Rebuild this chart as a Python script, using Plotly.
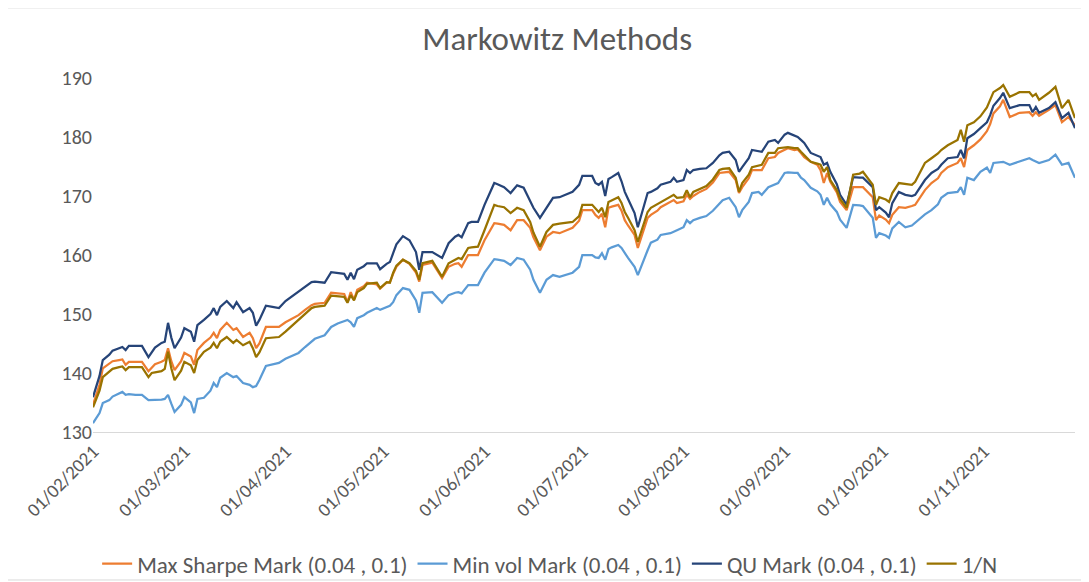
import plotly.graph_objects as go

dates = [
    "2021-02-01", "2021-02-03", "2021-02-04", "2021-02-06", "2021-02-07", "2021-02-09", "2021-02-10", "2021-02-11",
    "2021-02-12", "2021-02-14", "2021-02-16", "2021-02-18", "2021-02-19", "2021-02-20", "2021-02-22", "2021-02-23",
    "2021-02-24", "2021-02-25", "2021-02-26", "2021-02-28",
    "2021-03-01", "2021-03-03", "2021-03-04", "2021-03-05", "2021-03-07", "2021-03-09", "2021-03-10", "2021-03-11",
    "2021-03-12", "2021-03-14", "2021-03-16", "2021-03-17", "2021-03-19", "2021-03-21", "2021-03-22", "2021-03-23",
    "2021-03-24", "2021-03-26", "2021-03-28", "2021-03-30",
    "2021-04-01", "2021-04-03", "2021-04-05", "2021-04-07", "2021-04-09", "2021-04-10", "2021-04-13", "2021-04-15",
    "2021-04-17", "2021-04-19", "2021-04-20", "2021-04-21", "2021-04-22", "2021-04-23", "2021-04-25", "2021-04-26",
    "2021-04-29", "2021-04-30",
    "2021-05-02", "2021-05-03", "2021-05-04", "2021-05-05", "2021-05-07", "2021-05-09", "2021-05-11", "2021-05-12",
    "2021-05-13", "2021-05-15", "2021-05-16", "2021-05-19", "2021-05-21", "2021-05-23", "2021-05-24", "2021-05-25",
    "2021-05-27", "2021-05-28", "2021-05-30",
    "2021-06-01", "2021-06-04", "2021-06-05", "2021-06-07", "2021-06-09", "2021-06-11", "2021-06-13", "2021-06-15",
    "2021-06-16", "2021-06-18", "2021-06-20", "2021-06-22", "2021-06-24", "2021-06-26", "2021-06-28", "2021-06-30",
    "2021-07-01", "2021-07-04", "2021-07-05", "2021-07-06", "2021-07-07", "2021-07-08", "2021-07-09", "2021-07-10",
    "2021-07-12", "2021-07-13", "2021-07-14", "2021-07-15", "2021-07-17", "2021-07-18", "2021-07-21", "2021-07-22",
    "2021-07-24", "2021-07-25", "2021-07-28", "2021-07-29", "2021-07-30",
    "2021-08-01", "2021-08-02", "2021-08-03", "2021-08-04", "2021-08-06", "2021-08-08", "2021-08-10", "2021-08-12",
    "2021-08-13", "2021-08-15", "2021-08-17", "2021-08-18", "2021-08-19", "2021-08-21", "2021-08-22", "2021-08-24",
    "2021-08-25", "2021-08-27", "2021-08-29", "2021-08-30",
    "2021-09-01", "2021-09-02", "2021-09-04", "2021-09-05", "2021-09-06", "2021-09-07", "2021-09-09", "2021-09-11",
    "2021-09-12", "2021-09-13", "2021-09-14", "2021-09-15", "2021-09-17", "2021-09-18", "2021-09-20", "2021-09-21",
    "2021-09-22", "2021-09-24", "2021-09-25", "2021-09-28", "2021-09-29", "2021-09-30",
    "2021-10-02", "2021-10-03", "2021-10-04", "2021-10-06", "2021-10-08", "2021-10-10", "2021-10-11", "2021-10-14",
    "2021-10-16", "2021-10-18", "2021-10-19", "2021-10-21", "2021-10-24", "2021-10-25", "2021-10-26", "2021-10-27",
    "2021-10-29", "2021-10-31",
    "2021-11-02", "2021-11-03", "2021-11-04", "2021-11-06", "2021-11-07", "2021-11-09", "2021-11-12", "2021-11-15",
    "2021-11-16", "2021-11-17", "2021-11-18", "2021-11-21", "2021-11-23", "2021-11-25", "2021-11-27", "2021-11-29",
]

max_sharpe = [
    134.6, 138.0, 140.8, 141.7, 142.0, 142.2, 142.3, 141.4, 141.9, 141.9, 141.9, 140.3, 141.0, 141.5, 141.9, 142.2,
    144.2, 142.0, 140.5, 142.0,
    143.4, 142.8, 141.4, 143.9, 145.1, 146.0, 146.8, 145.9, 147.3, 148.5, 147.3, 147.6, 146.1, 146.8, 145.9, 144.2,
    145.0, 147.8, 147.8, 147.8,
    148.6, 149.2, 149.8, 150.7, 151.5, 151.7, 151.9, 153.6, 153.5, 153.4, 152.0, 153.7, 152.4, 154.1, 154.7, 155.3,
    155.0, 154.3,
    155.3, 155.4, 156.8, 158.0, 159.2, 158.5, 157.0, 155.5, 158.3, 158.5, 158.7, 156.1, 158.0, 158.5, 158.6, 158.0,
    160.0, 160.0, 160.0,
    162.5, 165.4, 165.3, 165.1, 164.2, 165.9, 165.9, 164.6, 163.0, 160.8, 163.1, 163.9, 163.7, 164.1, 164.6, 165.8,
    167.6, 167.6, 166.8, 166.3, 167.0, 164.7, 168.0, 168.2, 168.5, 167.5, 165.9, 165.0, 163.4, 161.2, 166.3, 166.8,
    167.5, 168.1, 168.9, 169.3, 168.8,
    169.1, 170.2, 169.5, 170.0, 170.7, 171.2, 172.3, 173.9, 174.0, 174.1, 172.7, 170.5, 171.5, 173.0, 174.4, 174.4,
    174.4, 176.4, 176.6, 177.3,
    177.8, 178.1, 177.8, 177.9, 177.3, 176.6, 175.8, 175.3, 174.4, 172.2, 173.9, 172.4, 170.6, 169.0, 167.6, 169.5,
    171.5, 171.5, 171.5, 169.8, 165.9, 166.7,
    166.0, 165.4, 166.8, 168.1, 168.0, 168.3, 168.5, 171.0, 172.2, 173.0, 173.9, 174.9, 175.6, 176.4, 174.9, 177.8,
    178.6, 179.6,
    181.0, 182.2, 184.0, 185.2, 186.3, 183.4, 184.1, 184.2, 183.6, 184.2, 183.6, 184.6, 185.4, 182.5, 183.4, 182.0,
]

min_vol = [
    131.5, 133.2, 134.9, 135.4, 136.0, 136.6, 136.8, 136.3, 136.4, 136.3, 136.3, 135.4, 135.4, 135.5, 135.5, 135.6,
    136.3, 134.8, 133.4, 134.6,
    135.9, 135.0, 133.2, 135.6, 135.8, 137.0, 138.3, 137.6, 139.2, 140.0, 139.3, 139.5, 138.3, 138.0, 137.6, 137.8,
    138.8, 141.2, 141.4, 141.7,
    142.4, 142.9, 143.4, 144.4, 145.3, 145.8, 146.4, 147.8, 148.4, 148.8, 149.0, 148.6, 147.8, 149.3, 149.8, 150.2,
    151.0, 150.7,
    151.2, 151.4, 152.0, 153.2, 154.4, 154.1, 152.3, 150.2, 153.6, 153.6, 153.7, 151.9, 153.2, 153.6, 153.7, 153.5,
    154.9, 154.9, 154.9,
    157.0, 159.3, 159.2, 159.0, 158.3, 159.5, 159.2, 157.5, 155.8, 153.6, 155.8, 156.6, 156.3, 156.6, 157.0, 158.0,
    160.0, 160.0, 159.6, 159.5, 160.3, 159.2, 161.0, 161.3, 161.7, 161.2, 160.3, 159.5, 158.0, 156.6, 160.8, 162.1,
    162.6, 163.4, 163.7, 163.9, 164.2,
    164.7, 165.9, 165.4, 165.9, 166.3, 166.6, 167.5, 168.8, 169.3, 169.7, 168.1, 166.4, 167.6, 169.0, 170.5, 170.7,
    170.2, 171.5, 172.0, 172.2,
    173.9, 174.0, 173.9, 173.9, 173.1, 172.7, 171.4, 170.8, 170.2, 168.5, 169.7, 168.6, 167.3, 166.0, 164.6, 166.5,
    168.5, 168.4, 168.3, 166.3, 162.9, 163.7,
    163.3, 162.9, 164.5, 165.6, 164.7, 165.0, 165.5, 166.9, 167.6, 168.6, 169.7, 170.5, 170.7, 171.5, 170.2, 173.1,
    172.7, 174.1,
    174.8, 173.9, 175.6, 175.7, 175.8, 175.3, 175.8, 176.4, 176.1, 175.9, 175.6, 176.1, 177.0, 175.3, 175.6, 173.1,
]

qu = [
    135.9, 139.5, 142.2, 143.1, 143.8, 144.2, 144.4, 143.9, 144.6, 144.6, 144.6, 142.7, 143.6, 144.3, 145.1, 145.3,
    148.5, 146.0, 144.2, 146.0,
    147.6, 147.0, 145.3, 148.1, 149.0, 150.0, 151.0, 149.8, 151.2, 152.2, 151.0, 152.0, 150.3, 151.0, 150.2, 148.0,
    149.0, 151.4, 151.2, 151.0,
    152.2, 153.0, 153.9, 154.6, 155.4, 155.5, 155.3, 157.1, 157.0, 156.8, 155.8, 157.0, 155.9, 157.5, 158.1, 158.6,
    158.6, 157.6,
    158.5, 158.8, 160.3, 161.8, 163.2, 162.5, 160.5, 157.5, 160.5, 160.5, 160.5, 159.5, 162.0, 163.1, 163.4, 163.0,
    165.4, 165.6, 165.6,
    168.5, 172.2, 172.0, 171.5, 170.5, 171.8, 171.4, 169.0, 168.0, 166.3, 168.1, 169.7, 169.8, 170.2, 170.7, 171.9,
    173.4, 173.4, 172.2, 171.9, 172.4, 170.0, 172.9, 173.2, 173.9, 172.5, 170.7, 169.5, 167.1, 164.7, 170.5, 170.7,
    171.3, 171.9, 172.4, 173.1, 172.4,
    172.7, 174.4, 173.9, 174.4, 174.6, 174.7, 175.6, 176.9, 177.3, 177.5, 176.1, 174.1, 174.9, 176.4, 177.8, 177.6,
    177.5, 179.2, 179.5, 179.0,
    180.4, 180.7, 180.3, 180.0, 179.5, 179.0, 177.3, 176.8, 176.6, 175.3, 175.6, 174.1, 172.0, 170.2, 168.5, 170.8,
    173.2, 173.1, 173.1, 171.5, 167.6, 168.1,
    167.2, 166.4, 168.8, 170.7, 170.2, 170.0, 170.2, 172.7, 173.9, 174.6, 175.3, 176.4, 176.6, 177.8, 176.4, 179.8,
    180.5, 181.5,
    182.5, 183.7, 185.3, 186.6, 187.5, 184.9, 185.4, 185.4, 184.2, 185.1, 184.1, 184.9, 185.9, 183.2, 184.1, 181.5,
]

one_over_n = [
    134.2, 137.0, 139.3, 140.2, 140.7, 141.0, 141.1, 140.5, 141.0, 141.0, 141.0, 139.3, 140.0, 140.1, 140.3, 140.7,
    143.6, 140.8, 138.8, 140.4,
    141.9, 141.3, 140.0, 142.2, 143.6, 144.3, 145.1, 144.2, 145.3, 146.1, 145.1, 145.6, 144.7, 145.3, 144.2, 142.7,
    143.5, 145.9, 146.0, 146.1,
    147.0, 148.0, 149.0, 150.0, 151.0, 151.2, 151.4, 153.1, 153.0, 152.9, 151.9, 153.2, 152.3, 153.7, 154.4, 155.1,
    155.3, 154.4,
    155.4, 155.3, 157.0, 158.2, 159.2, 158.6, 157.3, 155.8, 158.6, 158.8, 159.0, 156.3, 158.6, 159.2, 159.5, 159.3,
    161.2, 161.3, 161.4,
    164.2, 168.5, 168.3, 168.1, 167.1, 168.0, 167.6, 165.6, 163.8, 161.4, 163.9, 165.1, 165.3, 165.4, 165.6, 166.6,
    168.5, 168.5, 167.8, 167.3, 168.0, 166.4, 169.0, 169.3, 169.8, 168.8, 167.3, 166.3, 164.2, 162.2, 167.3, 168.0,
    168.6, 169.0, 169.8, 170.2, 169.7,
    169.8, 171.0, 169.8, 170.7, 171.2, 171.7, 172.8, 174.4, 174.6, 174.7, 173.1, 170.7, 172.2, 173.6, 174.9, 175.1,
    175.3, 177.3, 177.3, 178.1,
    178.3, 178.3, 178.1, 178.1, 177.5, 176.9, 175.8, 175.5, 175.3, 174.1, 174.9, 172.7, 171.0, 169.5, 168.0, 170.8,
    173.6, 173.8, 174.1, 171.9, 168.5, 169.8,
    169.4, 169.0, 170.5, 172.2, 172.0, 171.9, 172.4, 175.6, 176.4, 177.2, 177.8, 178.6, 179.5, 181.2, 179.2, 182.0,
    182.5, 183.5,
    185.0, 186.4, 187.6, 188.3, 188.8, 186.8, 187.6, 187.6, 186.9, 187.3, 186.3, 187.5, 188.5, 184.9, 186.3, 183.2,
]

series_names = ["Max Sharpe Mark (0.04 , 0.1)", "Min vol Mark (0.04 , 0.1)", "QU Mark (0.04 , 0.1)", "1/N"]
series_values = [max_sharpe, min_vol, qu, one_over_n]
series_colors = ["#ED7D31", "#5B9BD5", "#264478", "#997300"]

month_ticks = ["2021-02-01", "2021-03-01", "2021-04-01", "2021-05-01", "2021-06-01",
               "2021-07-01", "2021-08-01", "2021-09-01", "2021-10-01", "2021-11-01"]
month_labels = ["01/02/2021", "01/03/2021", "01/04/2021", "01/05/2021", "01/06/2021",
                "01/07/2021", "01/08/2021", "01/09/2021", "01/10/2021", "01/11/2021"]

FONT = "Carlito, Calibri, Lato, sans-serif"

fig = go.Figure()
for name, vals, col in zip(series_names, series_values, series_colors):
    fig.add_trace(go.Scatter(x=dates, y=vals, mode="lines", name=name,
                             line=dict(color=col, width=2.25)))

# the page body adds an 8px offset, so the figure is drawn 8px smaller
fig.update_layout(
    width=1081, height=574,
    paper_bgcolor="white", plot_bgcolor="white",
    margin=dict(l=85, r=14, t=70, b=150, autoexpand=False),
    title=dict(text="Markowitz Methods", x=0.508, xanchor="center", y=0.947, yanchor="middle",
               font=dict(family=FONT, size=33, color="#595959")),
    font=dict(family=FONT, color="#595959"),
    showlegend=True,
    legend=dict(orientation="h", x=0.465, xanchor="center", y=-0.372, yanchor="middle",
                font=dict(family=FONT, size=23, color="#595959"), itemwidth=30,
                bgcolor="rgba(0,0,0,0)"),
    shapes=[dict(type="rect", xref="paper", yref="paper", x0=-0.092, x1=1.012, y0=-0.418, y1=1.198,
                 line=dict(color="#d9d9d9", width=1), fillcolor="rgba(0,0,0,0)", layer="below")],
)

fig.update_xaxes(
    type="date", range=["2021-02-01", "2021-11-29"], automargin=False,
    tickvals=month_ticks, ticktext=month_labels, tickangle=-45,
    tickfont=dict(family=FONT, size=19, color="#595959"),
    showgrid=False, showline=True, linecolor="#d9d9d9", linewidth=1,
    ticks="", zeroline=False,
)
fig.update_yaxes(
    range=[130, 190], dtick=10, tick0=130, automargin=False,
    tickfont=dict(family=FONT, size=20, color="#595959"),
    showgrid=False, zeroline=False, showline=False, ticks="",
)

fig.write_html("out.html")
